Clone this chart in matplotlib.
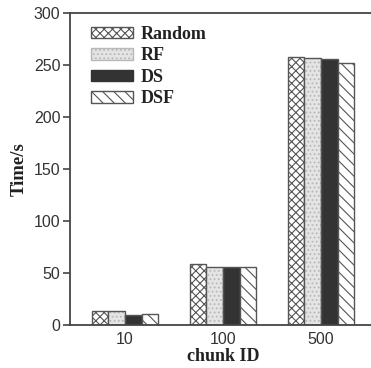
import numpy as np
import matplotlib
matplotlib.use("Agg")
import matplotlib.pyplot as plt

plt.rcParams['hatch.linewidth'] = 0.8

# data
chunks = ["10", "100", "500"]
methods = ["Random", "RF", "DS", "DSF"]
random_t = [13, 59, 258]
rf_t = [13, 56, 257]
ds_t = [10, 56, 256]
dsf_t = [11, 55.5, 252]
values = [random_t, rf_t, ds_t, dsf_t]

faces = ["white", "#e4e4e4", "#333333", "white"]
hatches = ["xxxx", "....", "", "\\\\\\"]
hatch_cols = ["#555555", "#b8b8b8", "#333333", "#555555"]

fig = plt.figure(figsize=(3.71, 3.68), dpi=100)
ax = fig.add_axes([70 / 371, 43 / 368, 306 / 371, 312 / 368])

x = np.arange(len(chunks))
w = 0.17
for i, (m, v) in enumerate(zip(methods, values)):
    pos = x + (i - 1.5) * w
    ax.bar(pos, v, w, facecolor=faces[i], edgecolor=hatch_cols[i],
           hatch=hatches[i], linewidth=0, label=m)
    # grey outline drawn over the hatch
    ax.bar(pos, v, w, facecolor="none", edgecolor="#555555", linewidth=1.0)

ax.set_xlim(-0.56, 2.56)
ax.set_ylim(0, 300)
ax.set_yticks(range(0, 301, 50))
ax.set_xticks(x)
ax.set_xticklabels(chunks)
ax.tick_params(axis="x", length=0, pad=5)
ax.tick_params(axis="y", direction="out", length=5, width=1.2, color="#444444", pad=2)
for lab in ax.get_xticklabels() + ax.get_yticklabels():
    lab.set_fontfamily("Liberation Sans")
    lab.set_fontsize(11.5)
    lab.set_color("#333333")

for s in ax.spines.values():
    s.set_color("#444444")
    s.set_linewidth(1.3)
ax.spines["right"].set_visible(False)

ax.set_xlabel("chunk ID", family="Liberation Serif", fontweight="bold",
              fontsize=13, labelpad=1, color="#222222")
ax.set_ylabel("Time/s", family="Liberation Serif", fontweight="bold",
              fontsize=13.5, labelpad=4, color="#222222")

handles = [plt.Rectangle((0, 0), 1, 1, facecolor=faces[i], edgecolor=hatch_cols[i],
                         hatch=hatches[i], linewidth=1.0) for i in range(4)]
leg = ax.legend(handles, methods, loc="upper left", frameon=False,
                prop={"family": "Liberation Serif", "weight": "bold", "size": 13},
                handlelength=2.3, handleheight=0.6, labelspacing=0.25,
                handletextpad=0.45, borderaxespad=0.3, bbox_to_anchor=(0.028, 1.0))
for t in leg.get_texts():
    t.set_color("#222222")

fig.savefig("out.png", dpi=100)
